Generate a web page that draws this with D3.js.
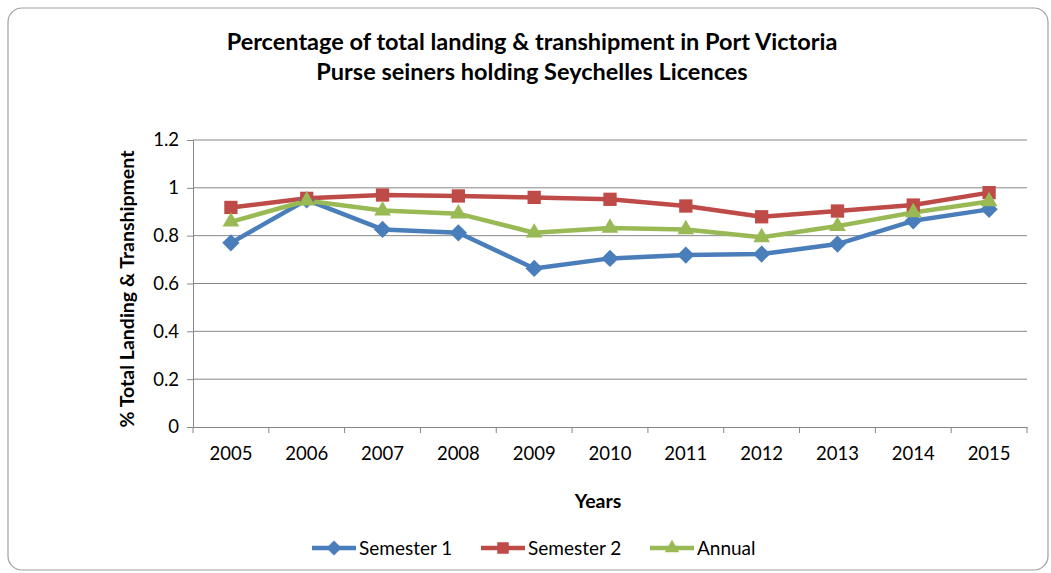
<!DOCTYPE html>
<html>
<head>
<meta charset="utf-8">
<script src="https://cdn.jsdelivr.net/npm/d3@7"></script>
<style>
  body { margin: 0; background: #fff; }
  text { font-family: Lato, "Open Sans", sans-serif; fill: #000; }
</style>
</head>
<body>
<div id="chart"></div>
<script>
// data
var years = ['2005','2006','2007','2008','2009','2010','2011','2012','2013','2014','2015'];
var semester1 = [0.770, 0.950, 0.826, 0.812, 0.663, 0.705, 0.719, 0.723, 0.765, 0.862, 0.910];
var semester2 = [0.918, 0.956, 0.970, 0.966, 0.960, 0.952, 0.924, 0.879, 0.903, 0.928, 0.980];
var annual    = [0.858, 0.946, 0.905, 0.892, 0.812, 0.832, 0.826, 0.793, 0.840, 0.897, 0.943];
var yTicks = [0, 0.2, 0.4, 0.6, 0.8, 1, 1.2];

var series = [
  { name: 'Semester 1', values: semester1, color: '#4a7ebb', shape: d3.symbolDiamond2, size: 190 },
  { name: 'Semester 2', values: semester2, color: '#be4b48', shape: d3.symbolSquare2, size: 225 },
  { name: 'Annual',     values: annual,    color: '#98b954', shape: d3.symbolTriangle2, size: 200 }
];

var width = 1051, height = 573;
var margin = { top: 140, bottom: 146, left: 193, right: 24 };

var svg = d3.select('#chart').append('svg')
  .attr('width', width)
  .attr('height', height);

// outer frame
svg.append('rect')
  .attr('x', 8).attr('y', 8)
  .attr('width', 1040).attr('height', 562)
  .attr('rx', 14)
  .attr('fill', '#fff')
  .attr('stroke', '#a0a0a0')
  .attr('stroke-width', 1.2);

var x = d3.scaleBand()
  .domain(years)
  .range([margin.left, width - margin.right]);

var y = d3.scaleLinear()
  .domain([0, 1.2])
  .range([height - margin.bottom, margin.top]);

// gridlines
svg.append('g')
  .selectAll('line')
  .data(yTicks.slice(1))
  .join('line')
    .attr('x1', margin.left)
    .attr('x2', width - margin.right)
    .attr('y1', d => y(d))
    .attr('y2', d => y(d))
    .attr('stroke', '#868686')
    .attr('stroke-width', 1);

// y axis
var yAxis = svg.append('g')
  .attr('transform', `translate(${margin.left},0)`)
  .call(d3.axisLeft(y).tickValues(yTicks).tickSize(6).tickPadding(8).tickFormat(d => d3.format('')(d)));
yAxis.selectAll('text').attr('font-size', '18.5px');
yAxis.selectAll('line, path').attr('stroke', '#868686');

// x axis, ticks at category boundaries
var xAxis = svg.append('g')
  .attr('transform', `translate(0,${y(0)})`)
  .call(d3.axisBottom(x).tickSize(0).tickPadding(20));
xAxis.select('.domain').attr('stroke', '#868686');
xAxis.selectAll('text').attr('font-size', '18.5px');
svg.append('g')
  .selectAll('line')
  .data(d3.range(years.length + 1))
  .join('line')
    .attr('x1', i => margin.left + i * x.bandwidth())
    .attr('x2', i => margin.left + i * x.bandwidth())
    .attr('y1', y(0))
    .attr('y2', y(0) + 6)
    .attr('stroke', '#868686');

// lines + markers
var line = d3.line()
  .x((d, i) => x(years[i]) + x.bandwidth() / 2)
  .y(d => y(d));

series.forEach(function(s) {
  svg.append('path')
    .datum(s.values)
    .attr('fill', 'none')
    .attr('stroke', s.color)
    .attr('stroke-width', 4.5)
    .attr('stroke-linejoin', 'round')
    .attr('d', line);
});
series.forEach(function(s) {
  svg.append('g')
    .selectAll('path')
    .data(s.values)
    .join('path')
      .attr('transform', (d, i) => `translate(${x(years[i]) + x.bandwidth() / 2},${y(d)})`)
      .attr('d', d3.symbol(s.shape, s.size))
      .attr('fill', s.color);
});

// titles
svg.append('text')
  .attr('x', 532).attr('y', 50)
  .attr('text-anchor', 'middle')
  .attr('font-size', '23.5px').attr('font-weight', 'bold')
  .text('Percentage of total landing & transhipment in Port Victoria');
svg.append('text')
  .attr('x', 532).attr('y', 80)
  .attr('text-anchor', 'middle')
  .attr('font-size', '23.5px').attr('font-weight', 'bold')
  .text('Purse seiners holding Seychelles Licences');

svg.append('text')
  .attr('x', 598).attr('y', 508)
  .attr('text-anchor', 'middle')
  .attr('font-size', '19.5px').attr('font-weight', 'bold')
  .text('Years');

svg.append('text')
  .attr('transform', 'translate(134,289) rotate(-90)')
  .attr('text-anchor', 'middle')
  .attr('font-size', '19.5px').attr('font-weight', 'bold')
  .text('% Total Landing & Transhipment');

// legend
var legendX = [312, 481, 650];
var legend = svg.append('g')
  .selectAll('g')
  .data(series)
  .join('g')
    .attr('transform', (d, i) => `translate(${legendX[i]},548)`);
legend.append('line')
  .attr('x1', 0).attr('x2', 44)
  .attr('stroke', d => d.color)
  .attr('stroke-width', 4.5);
legend.append('path')
  .attr('transform', 'translate(22,0)')
  .attr('d', d => d3.symbol(d.shape, d.size * 0.75)());
legend.selectAll('path').attr('fill', d => d.color);
legend.append('text')
  .attr('x', 47).attr('y', 7)
  .attr('font-size', '19px')
  .text(d => d.name);
</script>
</body>
</html>
